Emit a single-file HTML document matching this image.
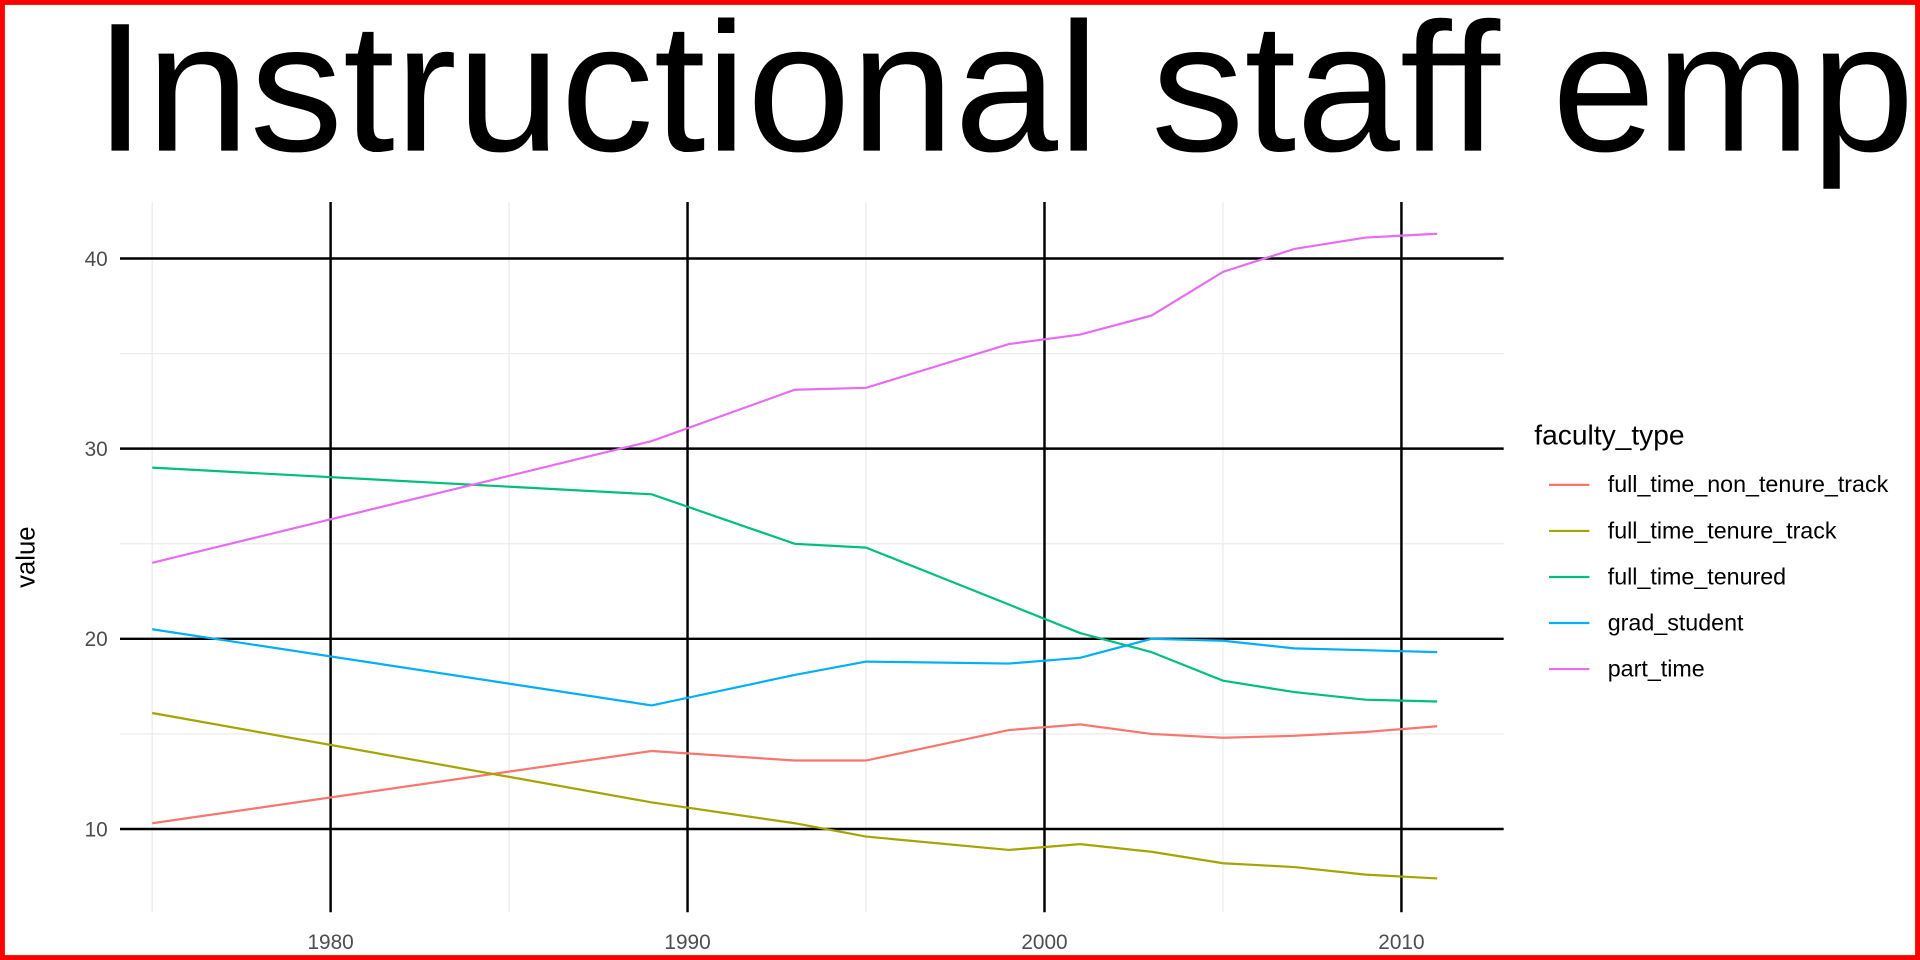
<!DOCTYPE html>
<html><head><meta charset="utf-8"><style>
html,body{margin:0;padding:0;background:#fff;}
svg{display:block;font-family:"Liberation Sans",Arial,sans-serif;}
</style></head><body>
<svg id="chart" width="1920" height="960" viewBox="0 0 1568 784" xmlns="http://www.w3.org/2000/svg">
<rect x="0" y="0" width="1568" height="784" fill="#fff"/>
<text transform="translate(77,123) scale(1.015,1)" x="0" y="0" font-size="150" fill="#000">Instructional staff employment</text>
<g id="grid"></g>
<g id="series"></g>
<text transform="translate(28,455) rotate(-90)" text-anchor="middle" font-size="21" fill="#000">value</text>
<g id="legend">
<text x="1253" y="363" font-size="23" fill="#000">faculty_type</text>
</g>
<rect x="2" y="2" width="1564" height="780" fill="none" stroke="#ff0000" stroke-width="4"/>
</svg>
<script>
const years=[1975,1989,1993,1995,1999,2001,2003,2005,2007,2009,2011];
const seriesNames=["full_time_non_tenure_track","full_time_tenure_track","full_time_tenured","grad_student","part_time"];
const nonTenureTrack=[10.3,14.1,13.6,13.6,15.2,15.5,15.0,14.8,14.9,15.1,15.4];
const tenureTrack=[16.1,11.4,10.3,9.6,8.9,9.2,8.8,8.2,8.0,7.6,7.4];
const tenured=[29.0,27.6,25.0,24.8,21.8,20.3,19.3,17.8,17.2,16.8,16.7];
const gradStudent=[20.5,16.5,18.1,18.8,18.7,19.0,20.0,19.9,19.5,19.4,19.3];
const partTime=[24.0,30.4,33.1,33.2,35.5,36.0,37.0,39.3,40.5,41.1,41.3];
const xTicks=[1980,1990,2000,2010];
const xMinor=[1975,1985,1995,2005];
const yTicks=[10,20,30,40];
const yMinor=[15,25,35];
const colors=["#F8766D","#A3A500","#00BF7D","#00B0F6","#E76BF3"];
const allSeries=[nonTenureTrack,tenureTrack,tenured,gradStudent,partTime];

const NS="http://www.w3.org/2000/svg";
const PL=98,PR=1228,PT=165,PB=745;
function xs(v){return 270+(v-1980)*29.15;}
function ys(v){return 677-(v-10)*15.53;}
function mk(tag,attrs,parent){const e=document.createElementNS(NS,tag);for(const k in attrs)e.setAttribute(k,attrs[k]);parent.appendChild(e);return e;}
const grid=document.getElementById('grid');
xMinor.forEach(v=>{const l=mk('line',{x1:xs(v),x2:xs(v),y1:PT,y2:PB,stroke:'#ebebeb','stroke-width':1},grid);

});
yMinor.forEach(v=>{const l=mk('line',{x1:PL,x2:PR,y1:ys(v),y2:ys(v),stroke:'#ebebeb','stroke-width':1},grid);

});
xTicks.forEach(v=>{const l=mk('line',{x1:xs(v),x2:xs(v),y1:PT,y2:PB,stroke:'#000','stroke-width':2},grid);


const t=mk('text',{x:xs(v),y:775,'text-anchor':'middle','font-size':17,fill:'#4d4d4d'},grid);t.textContent=v;

});
yTicks.forEach(v=>{const l=mk('line',{x1:PL,x2:PR,y1:ys(v),y2:ys(v),stroke:'#000','stroke-width':2},grid);


const t=mk('text',{x:88,y:ys(v)+6,'text-anchor':'end','font-size':17,fill:'#4d4d4d'},grid);t.textContent=v;

});
const sg=document.getElementById('series');
allSeries.forEach((s,i)=>{const pts=s.map((v,j)=>xs(years[j]).toFixed(1)+','+ys(v).toFixed(1)).join(' ');
const p=mk('polyline',{points:pts,fill:'none',stroke:colors[i],'stroke-width':1.8},sg);

});
const lg=document.getElementById('legend');
seriesNames.forEach((n,i)=>{const y=396+i*37.6;
const l=mk('line',{x1:1265,x2:1298,y1:y,y2:y,stroke:colors[i],'stroke-width':1.8},lg);


const t=mk('text',{x:1313,y:y+6,'font-size':19,fill:'#000'},lg);t.textContent=n;

});
</script>
</body></html>
